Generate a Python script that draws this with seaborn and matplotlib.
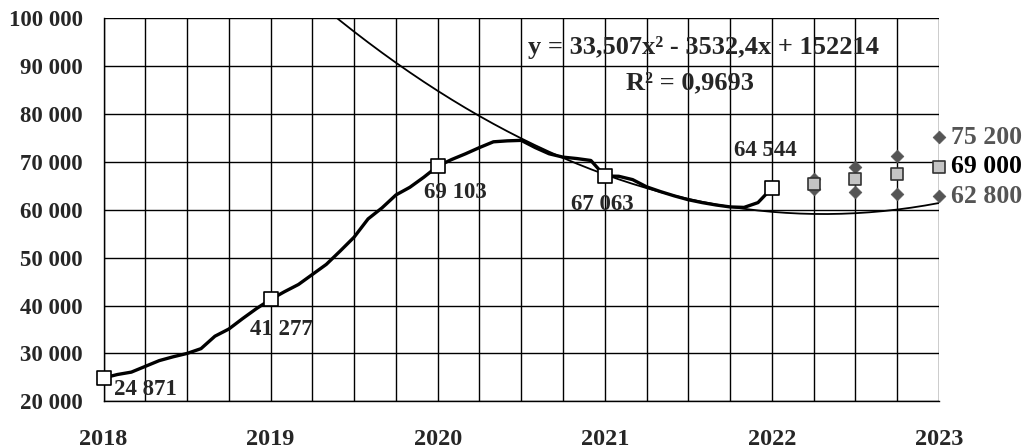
import numpy as np
import pandas as pd
import matplotlib
matplotlib.use("Agg")
import matplotlib.pyplot as plt
import seaborn as sns

# ---- data ----
start_year = 2018
monthly_values = [24871, 25600, 26100, 27300, 28500, 29300, 30000, 31000, 33600, 35100,
                  37300, 39400, 41277, 42900, 44400, 46500, 48600, 51400, 54300, 58100,
                  60400, 63100, 64700, 66800, 69103, 70500, 71700, 73000, 74200, 74400,
                  74500, 73000, 71700, 71000, 70700, 70300, 67063, 67000, 66300, 64800,
                  63800, 62900, 62100, 61500, 61000, 60600, 60500, 61500, 64544]
annual_years = [2018, 2019, 2020, 2021, 2022]
annual_values = [24871, 41277, 69103, 67063, 64544]
annual_labels = ["24 871", "41 277", "69 103", "67 063", "64 544"]

forecast_t = [2022.25, 2022.5, 2022.75, 2023.0]
forecast_mid = [65300, 66400, 67400, 69000]
forecast_high = [66400, 68900, 71200, 75200]
forecast_low = [64300, 63700, 63200, 62800]

trend_a, trend_b, trend_c = 33.507, -3532.4, 152214
trend_months = np.arange(1, 62)  # x = month number, 1 = Jan 2018

year_ticks = [2018, 2019, 2020, 2021, 2022, 2023]
y_ticks = [20000, 30000, 40000, 50000, 60000, 70000, 80000, 90000, 100000]

# ---- frames ----
t_month = start_year + np.arange(len(monthly_values)) / 12
df_line = pd.DataFrame({"t": t_month, "v": monthly_values})
df_ann = pd.DataFrame({"t": annual_years, "v": annual_values})
trend_t = start_year + (trend_months - 1) / 12
df_trend = pd.DataFrame({"t": trend_t,
                         "v": trend_a * trend_months**2 + trend_b * trend_months + trend_c})
df_fc = pd.DataFrame({"t": forecast_t, "mid": forecast_mid,
                      "high": forecast_high, "low": forecast_low})

sns.set_theme(style="white")
plt.rcParams["font.family"] = ["Liberation Serif", "DejaVu Serif"]
plt.rcParams["font.weight"] = "bold"

fig = plt.figure(figsize=(10.27, 4.48), dpi=100)
ax = fig.add_axes([0.1008, 0.1042, 0.9143 - 0.1008, 0.9592 - 0.1042])

ax.set_xlim(2018, 2023)
ax.set_ylim(20000, 100000)

# grid
ax.set_xticks(np.arange(2018, 2023.01, 0.25), minor=True)
ax.set_xticks(np.arange(2018, 2023.01, 0.5))
ax.grid(True, which="both", axis="x", color="black", linewidth=1.0)
ax.grid(True, which="major", axis="y", color="black", linewidth=1.0)
ax.set_axisbelow(True)

sns.lineplot(data=df_trend, x="t", y="v", ax=ax, color="black", linewidth=1.3, zorder=3)
sns.lineplot(data=df_line, x="t", y="v", ax=ax, color="black", linewidth=2.4, zorder=4)
sns.scatterplot(data=df_ann, x="t", y="v", ax=ax, marker="s", s=95, color="white",
                edgecolor="black", linewidth=1.2, zorder=5, clip_on=False)
sns.scatterplot(data=df_fc, x="t", y="high", ax=ax, marker="D", s=42, color="#555555",
                edgecolor="#555555", linewidth=0.5, zorder=5, clip_on=False)
sns.scatterplot(data=df_fc, x="t", y="low", ax=ax, marker="D", s=42, color="#555555",
                edgecolor="#555555", linewidth=0.5, zorder=5, clip_on=False)
sns.scatterplot(data=df_fc, x="t", y="mid", ax=ax, marker="s", s=80, color="#c4c4c4",
                edgecolor="#333333", linewidth=1.2, zorder=6, clip_on=False)

# axes cosmetics
for s in ["left", "bottom"]:
    ax.spines[s].set_color("black")
    ax.spines[s].set_linewidth(1.0)
for s in ["top", "right"]:
    ax.spines[s].set_visible(False)

def fmt(v):
    return f"{int(v):,}".replace(",", " ")

ax.set_yticks(y_ticks)
ax.set_yticklabels([fmt(v) for v in y_ticks], fontsize=16.5, fontweight="bold")
ax.set_xticklabels([])
ax.tick_params(axis="x", which="major", length=7, width=1, color="black", direction="out")
ax.tick_params(axis="x", which="minor", length=0)
ax.tick_params(axis="y", length=5, width=1, color="black", pad=10)
for yr in year_ticks:
    ax.annotate(str(yr), xy=(yr, 0), xycoords=("data", "axes fraction"),
                xytext=(0, -27.5), textcoords="offset points", ha="center", va="center",
                fontsize=17.5, fontweight="bold", annotation_clip=False)
ax.set_xlabel("")
ax.set_ylabel("")

# data labels
offsets = [(7.5, -8, "left"), (7.5, -21.5, "center"), (13, -19, "center"),
           (-2, -20.5, "center"), (-5, 27, "center")]
for t, v, lab, (dx, dy, ha) in zip(annual_years, annual_values, annual_labels, offsets):
    ax.annotate(lab, xy=(t, v), xytext=(dx, dy), textcoords="offset points",
                ha=ha, va="center", fontsize=16.5, fontweight="bold", annotation_clip=False)

# right labels
right_vals = [forecast_high[-1], forecast_mid[-1], forecast_low[-1]]
right_cols = ["#555555", "black", "#555555"]
for v, c in zip(right_vals, right_cols):
    ax.annotate(fmt(v), xy=(forecast_t[-1], v), xytext=(9, 0), textcoords="offset points",
                ha="left", va="center", fontsize=18.5, fontweight="bold", color=c,
                annotation_clip=False)

# equation
ax.text(2021.59, 93800, "y = 33,507x² - 3532,4x + 152214", ha="center", va="center",
        fontsize=19, fontweight="bold")
ax.text(2021.51, 86500, "R² = 0,9693", ha="center", va="center",
        fontsize=19, fontweight="bold")

fig.savefig("out.png", dpi=100)
